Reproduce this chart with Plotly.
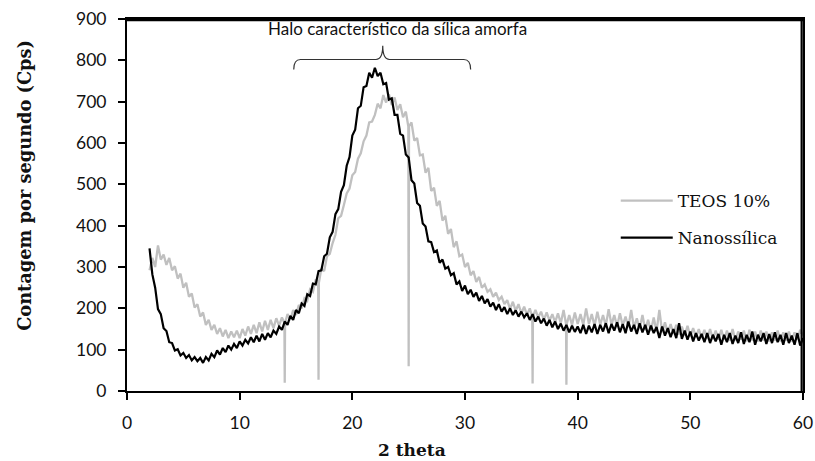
import numpy as np
import plotly.graph_objects as go

# 2-theta sampling grid (deg)
theta = np.round(np.arange(2.0, 60.0001, 0.25), 2)

nanossilica = [
    345, 282, 250, 198, 186, 152, 145, 118, 116, 98, 101, 86, 92, 80, 87, 74,
    82, 72, 80, 68, 82, 74, 90, 82, 98, 88, 104, 94, 110, 100, 114, 104,
    120, 110, 124, 115, 130, 118, 134, 120, 138, 124, 140, 130, 146, 138, 156, 148,
    168, 160, 182, 172, 196, 188, 212, 206, 234, 230, 260, 258, 290, 292, 326, 332,
    372, 385, 428, 440, 482, 498, 545, 566, 618, 632, 684, 690, 735, 738, 770, 758,
    782, 762, 770, 742, 745, 705, 708, 668, 668, 622, 618, 572, 565, 510, 502, 455,
    448, 405, 398, 362, 360, 336, 340, 310, 318, 296, 300, 280, 285, 258, 265, 242,
    255, 234, 245, 228, 238, 218, 230, 212, 222, 204, 214, 196, 210, 192, 203, 186,
    200, 184, 195, 180, 192, 178, 188, 172, 186, 168, 180, 164, 175, 158, 172, 154,
    168, 150, 163, 146, 160, 142, 158, 143, 156, 140, 160, 138, 158, 142, 162, 138,
    160, 144, 164, 140, 162, 146, 166, 142, 162, 140, 168, 144, 160, 138, 164, 142,
    160, 136, 158, 140, 155, 128, 156, 134, 152, 130, 150, 128, 164, 126, 146, 124,
    144, 120, 140, 122, 138, 118, 140, 116, 136, 120, 138, 112, 136, 118, 140, 114,
    134, 116, 142, 114, 136, 118, 144, 112, 136, 120, 140, 114, 138, 116, 142, 118,
    136, 112, 140, 116, 134, 112, 140, 110, 128,
]

teos10 = [
    292, 322, 300, 352, 318, 330, 305, 322, 292, 302, 272, 284, 250, 262, 228, 236,
    202, 210, 180, 190, 160, 172, 148, 160, 138, 152, 132, 148, 128, 144, 130, 146,
    128, 150, 134, 156, 138, 160, 140, 166, 144, 170, 148, 172, 152, 176, 158, 178,
    165, 186, 172, 196, 184, 208, 200, 224, 218, 246, 240, 270, 262, 296, 290, 326,
    332, 358, 378, 418, 424, 450, 478, 490, 522, 530, 562, 575, 604, 618, 650, 652,
    668, 695, 684, 716, 698, 718, 692, 710, 680, 694, 662, 676, 640, 650, 606, 612,
    570, 572, 528, 540, 484, 492, 448, 460, 412, 424, 380, 392, 348, 362, 326, 330,
    300, 310, 280, 290, 264, 276, 250, 258, 240, 246, 228, 238, 220, 228, 210, 220,
    198, 216, 194, 210, 188, 204, 184, 200, 180, 196, 178, 192, 172, 190, 170, 186,
    166, 188, 164, 196, 162, 184, 160, 190, 162, 186, 160, 200, 162, 186, 158, 192,
    160, 184, 158, 198, 160, 184, 156, 188, 158, 180, 154, 196, 152, 176, 150, 184,
    148, 172, 146, 178, 144, 196, 142, 166, 140, 162, 138, 160, 136, 156, 134, 158,
    132, 152, 130, 150, 128, 148, 126, 150, 126, 146, 124, 148, 124, 146, 122, 150,
    122, 144, 124, 146, 120, 148, 122, 144, 120, 146, 122, 144, 120, 142, 122, 146,
    120, 142, 122, 144, 120, 142, 124, 148, 134,
]

# narrow downward spikes in the TEOS 10% pattern
spike_theta = [14.0, 17.0, 25.0, 36.0, 39.0]
spike_bottom = [20, 27, 60, 18, 15]

legend_names = ["TEOS 10%", "Nanossílica"]
x_ticks = [0, 10, 20, 30, 40, 50, 60]
y_ticks = [0, 100, 200, 300, 400, 500, 600, 700, 800, 900]

n_b = min(len(theta), len(nanossilica))
n_t = min(len(theta), len(teos10))

# build TEOS series with the spikes inserted
tx, ty = [], []
for xv, yv in zip(theta[:n_t], teos10[:n_t]):
    xv = float(xv)
    if xv in spike_theta:
        b = spike_bottom[spike_theta.index(xv)]
        tx += [xv - 0.03, xv, xv + 0.03]
        ty += [yv, b, yv]
    else:
        tx.append(xv)
        ty.append(yv)

serif = "DejaVu Serif"
sans = "Lato"
x_range = [x_ticks[0], x_ticks[-1]]
y_range = [y_ticks[0], y_ticks[-1]]

fig = go.Figure()
fig.add_trace(go.Scatter(x=tx, y=ty, mode="lines", name=legend_names[0],
                         line=dict(color="#c0c0c0", width=2.3),
                         legendgroup="a"))
fig.add_trace(go.Scatter(x=theta[:n_b], y=nanossilica[:n_b], mode="lines",
                         name=legend_names[1],
                         line=dict(color="#000000", width=2.2),
                         legendgroup="b"))

# top and right edges of the plot frame, drawn just inside the plot area
fig.add_shape(type="line", xref="x domain", yref="y domain",
              x0=0, x1=1, y0=0.997, y1=0.997,
              line=dict(color="#000000", width=2.2), layer="above")
fig.add_shape(type="line", xref="x domain", yref="y domain",
              x0=0.998, x1=0.998, y0=0, y1=1,
              line=dict(color="#000000", width=2.2), layer="above")

# bracket over the amorphous halo
fig.add_shape(type="path",
              path="M 14.8,778 Q 14.8,802 15.4,802 L 22.1,802 Q 22.7,802 22.7,835 "
                   "Q 22.7,802 23.3,802 L 29.9,802 Q 30.5,802 30.5,778",
              line=dict(color="#333333", width=1.2), xref="x", yref="y")
fig.add_annotation(x=24.0, y=876, xref="x", yref="y",
                   text="Halo característico da sílica amorfa", showarrow=False,
                   font=dict(family=sans, size=17, color="#111111"))
# axis titles
fig.add_annotation(x=25.3, y=-0.158, xref="x", yref="paper", yanchor="middle",
                   text="<b>2 theta</b>", showarrow=False,
                   font=dict(family=serif, size=17, color="#111111"))
fig.add_annotation(x=-0.151, y=0.554, xref="paper", yref="paper",
                   xanchor="center", yanchor="middle", textangle=-90,
                   text="<b>Contagem por segundo (Cps)</b>", showarrow=False,
                   font=dict(family=serif, size=17.8, color="#111111"))

fig.update_layout(
    width=815, height=461,
    margin=dict(l=127, r=12, t=19, b=70),
    paper_bgcolor="white", plot_bgcolor="white",
    showlegend=True,
    legend=dict(x=0.723, y=0.559, xanchor="left", yanchor="top",
                font=dict(family=serif, size=17, color="#111111"),
                traceorder="grouped", tracegroupgap=12, itemwidth=52,
                bgcolor="rgba(0,0,0,0)"),
    xaxis=dict(range=x_range, tickvals=x_ticks, ticks="outside", ticklen=7,
               tickwidth=1.5, tickcolor="black", showline=True, linecolor="black",
               linewidth=2, mirror=True, showgrid=False, zeroline=False,
               automargin=False, ticklabelstandoff=8,
               tickfont=dict(family=sans, size=17.5, color="#111111")),
    yaxis=dict(range=y_range, tickvals=y_ticks, ticks="outside", ticklen=7,
               tickwidth=1.5, tickcolor="black", showline=True, linecolor="black",
               linewidth=2, mirror=True, showgrid=False, zeroline=False,
               automargin=False, ticklabelstandoff=8,
               tickfont=dict(family=sans, size=17.5, color="#111111")),
)

fig.write_html("out.html", config={"displayModeBar": False},
               post_script="document.body.style.margin='0';document.body.style.padding='0';")
